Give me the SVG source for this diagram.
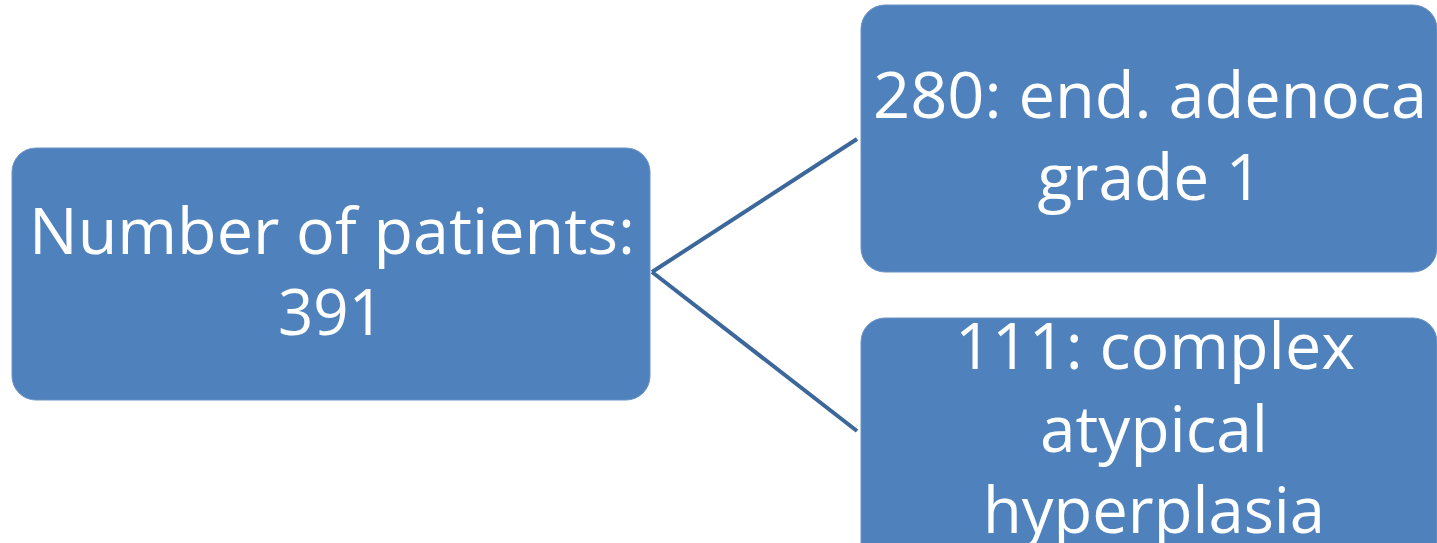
<svg xmlns="http://www.w3.org/2000/svg" width="1437" height="543" viewBox="0 0 1437 543">
<style>
.box{fill:#4f81bd;stroke:#6a93c6;stroke-width:1}
.t{font-family:"Open Sans","Noto Sans",sans-serif;font-size:64px;fill:#ffffff;text-anchor:middle}
.c{stroke:#3c679a;stroke-width:4;fill:none}
</style>
<rect width="1437" height="543" fill="#ffffff"/>
<g id="connectors">
<line class="c" x1="652" y1="272" x2="857" y2="139"/>
<line class="c" x1="652" y1="272" x2="857" y2="431"/>
</g>
<g id="node-patients">
<rect class="box" x="12" y="148" width="638" height="252" rx="24"/>
<text class="t" x="332" y="254" textLength="606" lengthAdjust="spacingAndGlyphs">Number of patients:</text>
<text class="t" x="331" y="335" textLength="106" lengthAdjust="spacingAndGlyphs">391</text>
</g>
<g id="node-adenoca">
<rect class="box" x="861" y="5" width="576" height="267" rx="24"/>
<text class="t" x="1150" y="118" textLength="554" lengthAdjust="spacingAndGlyphs">280: end. adenoca</text>
<text class="t" x="1150" y="200" textLength="225" lengthAdjust="spacingAndGlyphs">grade 1</text>
</g>
<g id="node-hyperplasia">
<rect class="box" x="861" y="318" width="576" height="260" rx="24"/>
<text class="t" x="1155" y="369" textLength="400" lengthAdjust="spacingAndGlyphs">111: complex</text>
<text class="t" x="1154" y="452" textLength="228" lengthAdjust="spacingAndGlyphs">atypical</text>
<text class="t" x="1154" y="533" textLength="342" lengthAdjust="spacingAndGlyphs">hyperplasia</text>
</g>
</svg>
